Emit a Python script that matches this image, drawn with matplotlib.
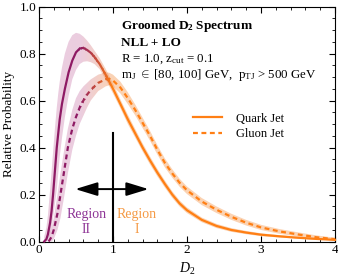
import numpy as np
import matplotlib.pyplot as plt
from matplotlib.colors import to_rgb
from matplotlib.patches import Rectangle
from matplotlib.lines import Line2D
from matplotlib.ticker import MultipleLocator

plt.rcParams['font.family'] = 'Liberation Serif'
plt.rcParams['mathtext.fontset'] = 'custom'
plt.rcParams['mathtext.rm'] = 'Liberation Serif'
plt.rcParams['mathtext.it'] = 'Liberation Serif:italic'
plt.rcParams['mathtext.bf'] = 'Liberation Serif:bold'

# --------------------------
# Data
# --------------------------
quark_d2 = [0.07, 0.10, 0.12, 0.15, 0.17, 0.19, 0.215, 0.24, 0.26, 0.28, 0.31, 0.35,
            0.40, 0.45, 0.50, 0.55, 0.60, 0.65, 0.70, 0.75, 0.82, 0.90, 1.00, 1.10,
            1.20, 1.30, 1.40, 1.50, 1.60, 1.70, 1.80, 1.90, 2.00, 2.20, 2.40, 2.60,
            2.80, 3.00, 3.25, 3.50, 3.75, 4.00]
quark = [0.0, 0.01, 0.03, 0.08, 0.13, 0.20, 0.30, 0.40, 0.46, 0.52, 0.585, 0.65,
         0.72, 0.77, 0.805, 0.821, 0.824, 0.815, 0.803, 0.785, 0.755, 0.71, 0.65, 0.585,
         0.52, 0.46, 0.40, 0.345, 0.293, 0.245, 0.20, 0.162, 0.133, 0.092, 0.066, 0.049,
         0.038, 0.029, 0.022, 0.016, 0.011, 0.007]
quark_hi = [0.02, 0.06, 0.11, 0.22, 0.30, 0.38, 0.48, 0.57, 0.63, 0.68, 0.74, 0.80,
            0.85, 0.878, 0.888, 0.884, 0.872, 0.855, 0.835, 0.812, 0.78, 0.735, 0.672, 0.605,
            0.54, 0.479, 0.418, 0.362, 0.309, 0.26, 0.214, 0.175, 0.145, 0.102, 0.075, 0.057,
            0.045, 0.035, 0.027, 0.020, 0.014, 0.009]
quark_lo = [0.0, 0.0, 0.005, 0.03, 0.06, 0.10, 0.16, 0.22, 0.29, 0.36, 0.44, 0.53,
            0.62, 0.69, 0.73, 0.755, 0.765, 0.767, 0.763, 0.755, 0.733, 0.69, 0.63, 0.567,
            0.50, 0.442, 0.383, 0.328, 0.277, 0.23, 0.186, 0.149, 0.121, 0.082, 0.057, 0.041,
            0.031, 0.023, 0.017, 0.012, 0.008, 0.005]

gluon_d2 = [0.13, 0.17, 0.20, 0.25, 0.29, 0.34, 0.39, 0.45, 0.50, 0.55, 0.60, 0.65,
            0.70, 0.80, 0.90, 0.95, 1.00, 1.10, 1.20, 1.30, 1.40, 1.50, 1.60, 1.70,
            1.80, 1.90, 2.00, 2.20, 2.40, 2.60, 2.80, 3.00, 3.25, 3.50, 3.75, 4.00]
gluon = [0.0, 0.02, 0.05, 0.12, 0.20, 0.30, 0.40, 0.48, 0.53, 0.57, 0.60, 0.625,
         0.645, 0.675, 0.69, 0.692, 0.685, 0.655, 0.61, 0.56, 0.505, 0.45, 0.39, 0.335,
         0.29, 0.25, 0.218, 0.17, 0.135, 0.105, 0.08, 0.06, 0.043, 0.03, 0.018, 0.01]
gluon_hi = [0.02, 0.06, 0.10, 0.20, 0.29, 0.39, 0.48, 0.56, 0.61, 0.64, 0.66, 0.675,
            0.69, 0.71, 0.72, 0.718, 0.71, 0.68, 0.635, 0.583, 0.527, 0.471, 0.41, 0.354,
            0.308, 0.267, 0.234, 0.185, 0.149, 0.118, 0.092, 0.071, 0.053, 0.039, 0.026, 0.016]
gluon_lo = [0.0, 0.0, 0.01, 0.05, 0.10, 0.19, 0.29, 0.39, 0.45, 0.50, 0.535, 0.57,
            0.60, 0.64, 0.66, 0.665, 0.66, 0.63, 0.585, 0.537, 0.483, 0.429, 0.37, 0.316,
            0.272, 0.233, 0.202, 0.155, 0.121, 0.092, 0.068, 0.049, 0.033, 0.021, 0.010, 0.004]

x_ticks = [0, 1, 2, 3, 4]
y_ticks = [0.0, 0.2, 0.4, 0.6, 0.8, 1.0]

purple = '#8E1A64'
orange = '#FF7F14'
band_purple = '#CD82B1'
band_orange = '#F59141'
dash = (0, (2.2, 1.6))

fig = plt.figure(figsize=(3.38, 2.79), dpi=100)
ax = fig.add_axes([0.1154, 0.1344, 0.8757, 0.8423])


def mix(c1, c2, x):
    # purple left of ~0.55, orange right of ~1.0
    t = np.clip((np.asarray(x) - 0.55) / 0.45, 0, 1)
    a, b = np.array(to_rgb(c1)), np.array(to_rgb(c2))
    return (1 - t)[..., None] * a + t[..., None] * b


def gradient_band(x, lo, hi, alpha):
    poly = ax.fill_between(x, lo, hi, facecolor='none', edgecolor='none')
    xs = np.linspace(0, 4, 400)
    img = mix(band_purple, band_orange, xs)[None, :, :]
    im = ax.imshow(img, extent=[0, 4, 0, 1], aspect='auto', origin='lower',
                   alpha=alpha, zorder=1, interpolation='bilinear')
    im.set_clip_path(poly.get_paths()[0], transform=ax.transData)


def gradient_line(x, y, **kw):
    edges = np.concatenate([[-0.1], np.linspace(0.55, 1.0, 19), [4.2]])
    for x0, x1 in zip(edges[:-1], edges[1:]):
        c = mix(purple, orange, 0.5 * (x0 + x1))
        ln, = ax.plot(x, y, color=c, zorder=3, **kw)
        ln.set_clip_path(Rectangle((x0 - 0.004, -1), x1 - x0 + 0.008, 3,
                                   transform=ax.transData))


gradient_band(quark_d2, quark_lo, quark_hi, 0.4)
gradient_band(gluon_d2, gluon_lo, gluon_hi, 0.4)
gradient_line(quark_d2, quark, lw=1.6)
gradient_line(gluon_d2, gluon, lw=1.6, ls=dash)

# region marker
ax.plot([1, 1], [0, 0.46], color='k', lw=1.5, zorder=4)
ax.annotate('', xy=(0.49, 0.223), xytext=(1.48, 0.223),
            arrowprops=dict(arrowstyle='<|-|>,head_length=0.85,head_width=0.26',
                            color='k', lw=1.4, mutation_scale=16,
                            shrinkA=0, shrinkB=0), zorder=4)
ax.text(0.64, 0.085, 'Region\nII', ha='center', va='center', color='#8E3596',
        fontsize=10, linespacing=1.2)
ax.text(1.32, 0.085, 'Region\nI', ha='center', va='center', color='#F59A45',
        fontsize=10, linespacing=1.2)

# labels in the upper right
tx = 0.277
ax.text(tx, 0.917, r'Groomed $\mathbf{D_2}$ Spectrum', transform=ax.transAxes,
        fontsize=9.5, fontweight='bold', va='center')
ax.text(tx, 0.845, 'NLL + LO', transform=ax.transAxes,
        fontsize=9.5, fontweight='bold', va='center')
ax.text(tx, 0.777, r'R = 1.0, $\mathrm{z_{cut}}$ = 0.1', transform=ax.transAxes,
        fontsize=9.3, va='center')
ax.text(tx, 0.709, r'$\mathrm{m_J}$ $\in$ [80, 100] GeV,  $\mathrm{p_{TJ}}$ > 500 GeV',
        transform=ax.transAxes, fontsize=9.3, va='center')

handles = [Line2D([], [], color=orange, lw=1.6),
           Line2D([], [], color=orange, lw=1.6, ls=dash)]
ax.legend(handles, ['Quark Jet', 'Gluon Jet'], loc='upper left',
          bbox_to_anchor=(0.5, 0.575), frameon=False, fontsize=9,
          handlelength=2.3, handletextpad=1.1, labelspacing=0.3, borderpad=0)

# --------------------------
# Axes settings
# --------------------------
ax.set_xlim(0, 4)
ax.set_ylim(0, 1)
ax.set_xticks(x_ticks)
ax.set_xticklabels([str(v) for v in x_ticks])
ax.set_yticks(y_ticks)
ax.set_yticklabels([f'{v:.1f}' for v in y_ticks])
ax.xaxis.set_minor_locator(MultipleLocator(0.2))
ax.yaxis.set_minor_locator(MultipleLocator(0.05))
ax.tick_params(which='both', direction='in', top=True, right=True, labelsize=9.5, pad=2)
ax.tick_params(which='major', length=4, width=0.8)
ax.tick_params(which='minor', length=2.2, width=0.6)
ax.set_xlabel(r'$D_2$', fontsize=10, labelpad=3)
ax.set_ylabel('Relative Probability', fontsize=9.5, labelpad=3)
for s in ax.spines.values():
    s.set_linewidth(0.8)

fig.savefig('out.png', dpi=100)
